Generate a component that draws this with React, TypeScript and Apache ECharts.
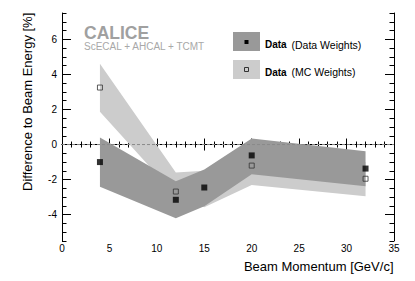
import React, { useEffect, useRef } from "react";
import * as echarts from "echarts";

// ---- data ----
const momentum = [4, 12, 15, 20, 32];
const dataWeights = [-1.0, -3.15, -2.45, -0.62, -1.37];
const dataBandUpper = [0.4, -2.1, -1.43, 0.34, -0.38];
const dataBandLower = [-2.4, -4.2, -3.52, -1.7, -2.38];

const mcMomentum = [4, 12, 20, 32];
const mcWeights = [3.25, -2.68, -1.2, -1.95];
const mcBandMomentum = [4, 12, 15, 20, 32];
const mcBandUpper = [4.6, -1.6, -1.5, 0.0, -1.0];
const mcBandLower = [1.87, -2.9, -3.58, -2.3, -2.95];

const xMin = 0;
const xMax = 35;
const xInterval = 5;
const yMin = -5.5;
const yMax = 7.5;
const yMajorTicks = [-4, -2, 0, 2, 4, 6];
const yMinorTicks = [
  -5.5, -5, -4.5, -3.5, -3, -2.5, -1.5, -1, -0.5, 0.5, 1, 1.5, 2.5, 3, 3.5,
  4.5, 5, 5.5, 6.5, 7, 7.5,
];

const FONT = "'Liberation Sans', Arial, Helvetica, sans-serif";

function bandRenderer(xs: number[], upper: number[], lower: number[], fill: string) {
  return (params: any, api: any) => {
    const pts: number[][] = [];
    for (let i = 0; i < xs.length; i++) pts.push(api.coord([xs[i], upper[i]]));
    for (let i = xs.length - 1; i >= 0; i--) pts.push(api.coord([xs[i], lower[i]]));
    return {
      type: "polygon",
      shape: { points: pts },
      style: { fill, stroke: "none" },
    };
  };
}

export default function App() {
  const ref = useRef<HTMLDivElement>(null);

  useEffect(() => {
    if (!ref.current) return;
    const chart = echarts.init(ref.current, undefined, { renderer: "svg" });

    const axisLine = { show: true, lineStyle: { color: "#000", width: 1 } };

    const xCommon = {
      type: "value",
      min: xMin,
      max: xMax,
      interval: xInterval,
      axisLine,
      splitLine: { show: false },
      axisTick: { show: true, inside: true, length: 6, lineStyle: { color: "#000" } },
      minorTick: { show: true, splitNumber: 5, length: 3, lineStyle: { color: "#000" } },
    };

    const yMajor = (pos: string, labels: boolean) => ({
      type: "value",
      position: pos,
      min: yMin,
      max: yMax,
      axisLine,
      splitLine: { show: false },
      axisTick: {
        show: true,
        inside: true,
        length: 9,
        customValues: yMajorTicks,
        lineStyle: { color: "#000" },
      },
      axisLabel: labels
        ? {
            show: true,
            customValues: yMajorTicks,
            fontSize: 10,
            fontFamily: FONT,
            color: "#000",
            margin: 5,
          }
        : { show: false },
    });

    const yMinor = (pos: string) => ({
      type: "value",
      position: pos,
      min: yMin,
      max: yMax,
      axisLine: { show: false },
      splitLine: { show: false },
      axisTick: {
        show: true,
        inside: true,
        length: 4.5,
        customValues: yMinorTicks,
        lineStyle: { color: "#000" },
      },
      axisLabel: { show: false },
    });

    const option: any = {
      animation: false,
      grid: { left: 62, right: 21, top: 13, bottom: 40, containLabel: false },
      xAxis: [
        {
          ...xCommon,
          position: "bottom",
          axisLabel: { show: true, fontSize: 10, fontFamily: FONT, color: "#000", margin: 2 },
        },
        { ...xCommon, position: "top", axisLabel: { show: false } },
      ],
      yAxis: [yMajor("left", true), yMinor("left"), yMajor("right", false), yMinor("right")],
      series: [
        {
          type: "custom",
          name: "MC band",
          renderItem: bandRenderer(mcBandMomentum, mcBandUpper, mcBandLower, "#cccccc"),
          data: [[mcBandMomentum[0], mcBandUpper[0]]],
          silent: true,
          z: 1,
        },
        {
          type: "custom",
          name: "Data band",
          renderItem: bandRenderer(momentum, dataBandUpper, dataBandLower, "#999999"),
          data: [[momentum[0], dataBandUpper[0]]],
          silent: true,
          z: 2,
        },
        {
          type: "line",
          name: "zero",
          data: [
            [xMin, 0],
            [xMax, 0],
          ],
          symbol: "none",
          lineStyle: { color: "#8a8a8a", width: 1, type: [3, 2] },
          silent: true,
          z: 3,
        },
        {
          type: "scatter",
          name: "Data (MC Weights)",
          data: mcMomentum.map((m, i) => [m, mcWeights[i]]),
          symbol: "rect",
          symbolSize: 5,
          itemStyle: { color: "rgba(0,0,0,0)", borderColor: "#333", borderWidth: 1 },
          z: 4,
        },
        {
          type: "scatter",
          name: "Data (Data Weights)",
          data: momentum.map((m, i) => [m, dataWeights[i]]),
          symbol: "rect",
          symbolSize: 6,
          itemStyle: { color: "#000" },
          z: 5,
        },
      ],
      graphic: [
        {
          type: "text",
          x: 84,
          y: 32.5,
          style: {
            text: "CALICE",
            font: `bold 17.5px ${FONT}`,
            fill: "#a0a0a0",
            align: "left",
            verticalAlign: "middle",
          },
        },
        {
          type: "text",
          x: 84,
          y: 46.5,
          style: {
            text: "ScECAL + AHCAL + TCMT",
            font: `10px ${FONT}`,
            fill: "#a8a8a8",
            align: "left",
            verticalAlign: "middle",
          },
        },
        // legend
        { type: "rect", shape: { x: 233, y: 32, width: 27, height: 19 }, style: { fill: "#999999" } },
        { type: "rect", shape: { x: 244.5, y: 40, width: 4, height: 4 }, style: { fill: "#000" } },
        { type: "rect", shape: { x: 233, y: 60, width: 27, height: 19 }, style: { fill: "#cccccc" } },
        {
          type: "rect",
          shape: { x: 244.5, y: 67.5, width: 4, height: 4 },
          style: { fill: "none", stroke: "#333", lineWidth: 1 },
        },
        {
          type: "text",
          x: 265,
          y: 44.5,
          style: { text: "Data", font: `bold 10px ${FONT}`, fill: "#000", verticalAlign: "middle" },
        },
        {
          type: "text",
          x: 291.5,
          y: 44.5,
          style: { text: "(Data Weights)", font: `10.5px ${FONT}`, fill: "#000", verticalAlign: "middle" },
        },
        {
          type: "text",
          x: 265,
          y: 72,
          style: { text: "Data", font: `bold 10px ${FONT}`, fill: "#000", verticalAlign: "middle" },
        },
        {
          type: "text",
          x: 291.5,
          y: 72,
          style: { text: "(MC Weights)", font: `10.5px ${FONT}`, fill: "#000", verticalAlign: "middle" },
        },
        // axis titles
        {
          type: "text",
          x: 393.5,
          y: 266,
          style: {
            text: "Beam Momentum [GeV/c]",
            font: `13px ${FONT}`,
            fill: "#000",
            align: "right",
            verticalAlign: "middle",
          },
        },
        {
          type: "text",
          x: 27,
          y: 12.7,
          rotation: Math.PI / 2,
          style: {
            text: "Difference to Beam Energy [%]",
            font: `13px ${FONT}`,
            fill: "#000",
            align: "right",
            verticalAlign: "middle",
          },
        },
      ],
    };

    chart.setOption(option);
    return () => chart.dispose();
  }, []);

  return <div ref={ref} style={{ width: 415, height: 281, position: "absolute", left: 0, top: 0 }} />;
}
